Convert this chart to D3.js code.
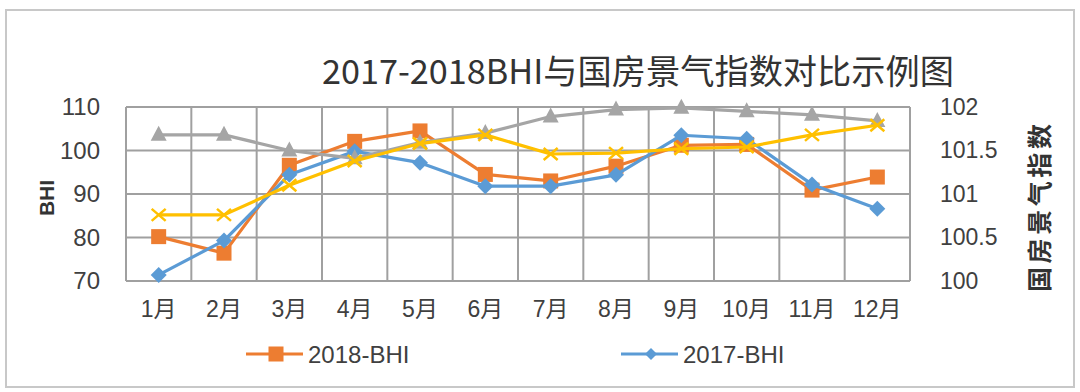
<!DOCTYPE html>
<html><head><meta charset="utf-8">
<script src="https://cdn.jsdelivr.net/npm/d3@7"></script>
<style>
html,body{margin:0;padding:0;background:#fff;}
svg{display:block;}
text{font-family:"Liberation Sans","Noto Sans CJK SC",sans-serif;}
</style></head>
<body>
<svg id="chart" width="1080" height="392"></svg>
<script>
const months = ["1月","2月","3月","4月","5月","6月","7月","8月","9月","10月","11月","12月"];
const bhi2018 = [80.2, 76.4, 96.6, 102.1, 104.5, 94.5, 93.0, 96.4, 101.2, 101.4, 90.9, 93.9];
const bhi2017 = [71.4, 79.3, 94.4, 99.8, 97.2, 91.8, 91.8, 94.4, 103.5, 102.7, 92.2, 86.6];
const guofang2018 = [101.68, 101.68, 101.50, 101.41, 101.59, 101.70, 101.89, 101.97, 101.99, 101.95, 101.91, 101.84];
const guofang2017 = [100.76, 100.76, 101.10, 101.38, 101.58, 101.68, 101.46, 101.47, 101.52, 101.54, 101.68, 101.79];
const leftTicks = [70, 80, 90, 100, 110];
const rightTicks = [100, 100.5, 101, 101.5, 102];
const rightTickLabels = ["100", "100.5", "101", "101.5", "102"];
const titleText = "2017-2018BHI与国房景气指数对比示例图";
const legendNames = ["2018-BHI", "2017-BHI"];

const svg = d3.select("#chart");
const L = 126, R = 910, T = 107, B = 281;

// outer border
svg.append("rect").attr("x", 6).attr("y", 10).attr("width", 1068).attr("height", 377)
  .attr("fill", "#fff").attr("stroke", "#c8c8c8").attr("stroke-width", 2);

const x = d3.scaleBand().domain(months).range([L, R]).paddingInner(0).paddingOuter(0);
const yL = d3.scaleLinear().domain([70, 110]).range([B, T]);
const yR = d3.scaleLinear().domain([100, 102]).range([B, T]);

// title
svg.append("text").attr("x", 638).attr("y", 84).attr("text-anchor", "middle")
  .attr("font-size", 34).attr("fill", "#333")
  .attr("textLength", 632).attr("lengthAdjust", "spacingAndGlyphs")
  .style("font-family", "'Noto Sans CJK SC',sans-serif")
  .text(titleText);

// gridlines
const grid = svg.append("g");
grid.selectAll("line.h").data(leftTicks).join("line")
  .attr("x1", L).attr("x2", R).attr("y1", d => yL(d)).attr("y2", d => yL(d))
  .attr("stroke", "#a0a0a0").attr("stroke-width", 2);
const vx = months.map(m => x(m)).concat([R]);
grid.selectAll("line.v").data(vx).join("line")
  .attr("x1", d => d).attr("x2", d => d).attr("y1", T).attr("y2", B)
  .attr("stroke", "#a0a0a0").attr("stroke-width", 2);

// left axis
const la = svg.append("g").attr("transform", `translate(${L},0)`)
  .call(d3.axisLeft(yL).tickValues(leftTicks).tickSize(0).tickPadding(26));
la.select(".domain").remove();
la.selectAll("text").attr("font-size", 24).attr("fill", "#404040")
  .style("font-family", "'Liberation Sans',sans-serif");

// right axis
const ra = svg.append("g").attr("transform", `translate(${R},0)`)
  .call(d3.axisRight(yR).tickValues(rightTicks).tickSize(0).tickPadding(30)
    .tickFormat((d, i) => rightTickLabels[i]));
ra.select(".domain").remove();
ra.selectAll("text").attr("font-size", 23).attr("fill", "#404040")
  .style("font-family", "'Liberation Sans',sans-serif");

// x axis
const xa = svg.append("g").attr("transform", `translate(0,${B})`)
  .call(d3.axisBottom(x).tickSize(0).tickPadding(20));
xa.select(".domain").remove();
xa.selectAll("text").attr("font-size", 23).attr("fill", "#404040")
  .style("font-family", "'Liberation Sans','Noto Sans CJK SC',sans-serif");

// axis titles
svg.append("text").attr("transform", "translate(54,198) rotate(-90)")
  .attr("text-anchor", "middle").attr("font-size", 21).attr("font-weight", "bold")
  .attr("fill", "#333").text("BHI");
svg.append("text").attr("transform", "translate(1049,208) rotate(-90)")
  .attr("text-anchor", "middle").attr("font-size", 25).attr("font-weight", "bold")
  .attr("fill", "#333").attr("textLength", 168).attr("lengthAdjust", "spacing")
  .style("font-family", "'Noto Sans CJK SC',sans-serif").text("国房景气指数");

const cx = m => x(m) + x.bandwidth() / 2;

function drawSeries(vals, yScale, color, marker) {
  const g = svg.append("g");
  const line = d3.line().x((d, i) => cx(months[i])).y(d => yScale(d));
  g.append("path").attr("d", line(vals)).attr("fill", "none").attr("stroke", color)
    .attr("stroke-width", 3.2).attr("stroke-linejoin", "round");
  const pts = g.selectAll("g.m").data(vals).join("g")
    .attr("transform", (d, i) => `translate(${cx(months[i])},${yScale(d)})`);
  marker(pts, color);
}
const square = (s, c) => s.append("rect").attr("x", -7.5).attr("y", -7.5).attr("width", 15).attr("height", 15).attr("fill", c);
const diamond = (s, c) => s.append("path").attr("d", "M0,-8L8,0L0,8L-8,0Z").attr("fill", c);
const tri = (s, c) => s.append("path").attr("d", "M0,-9L8,6L-8,6Z").attr("fill", c);
const cross = (s, c) => s.append("path").attr("d", "M-7,-6L7,6M-7,6L7,-6").attr("stroke", c).attr("stroke-width", 2.5);

drawSeries(bhi2018, yL, "#ED7D31", square);
drawSeries(bhi2017, yL, "#5B9BD5", diamond);
drawSeries(guofang2018, yR, "#A5A5A5", tri);
drawSeries(guofang2017, yR, "#FFC000", cross);

// legend
const leg = svg.append("g");
const legItems = [
  {name: legendNames[0], color: "#ED7D31", x1: 246, mk: "sq"},
  {name: legendNames[1], color: "#5B9BD5", x1: 621, mk: "di"}
];
legItems.forEach(it => {
  leg.append("line").attr("x1", it.x1).attr("x2", it.x1 + 57).attr("y1", 354).attr("y2", 354)
    .attr("stroke", it.color).attr("stroke-width", 3.2);
  const g = leg.append("g").attr("transform", `translate(${it.x1 + 30},354)`);
  if (it.mk === "di") {
    g.append("path").attr("d", "M0,-6L6,0L0,6L-6,0Z").attr("fill", it.color);
  } else {
    g.append("rect").attr("x", -7.5).attr("y", -7.5).attr("width", 15).attr("height", 15).attr("fill", it.color);
  }
  leg.append("text").attr("x", it.x1 + 62).attr("y", 363).attr("font-size", 24)
    .attr("fill", "#404040").text(it.name);
});
</script>
</body></html>
